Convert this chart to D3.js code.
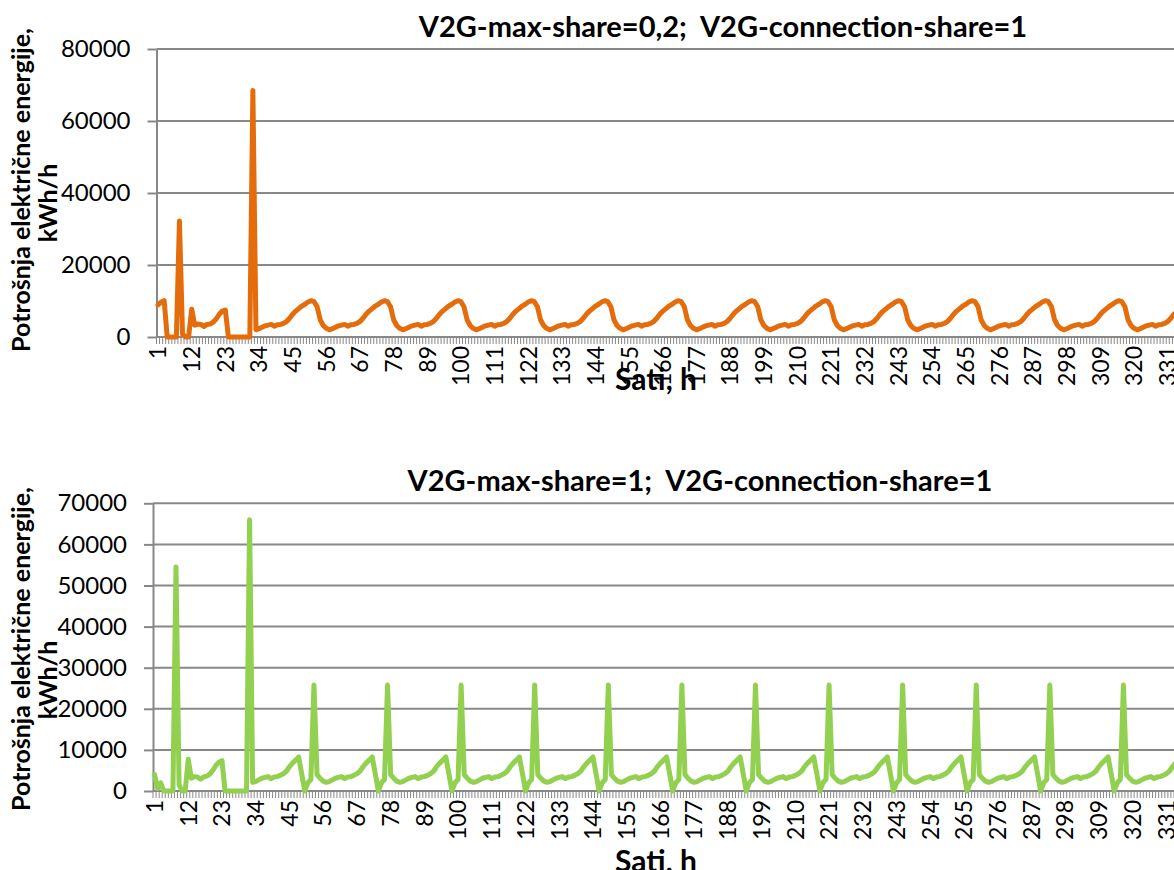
<!DOCTYPE html>
<html>
<head>
<meta charset="utf-8">
<script src="https://cdn.jsdelivr.net/npm/d3@7"></script>
<style>
  html, body { margin: 0; padding: 0; background: #ffffff; }
  svg { display: block; overflow: hidden; }
  text { fill: #000; }
  .title, .ytitle { font-family: Lato, "Open Sans", sans-serif; font-weight: 700; white-space: pre; }
  .tick text { font-family: Lato, "Open Sans", sans-serif; }
</style>
</head>
<body>
<svg id="chart" width="1174" height="870"></svg>
<script>
// Simulated hours (two weeks, hourly resolution)
const hours = d3.range(1, 337);

const xTickLabels = [1, 12, 23, 34, 45, 56, 67, 78, 89, 100, 111, 122, 133, 144, 155,
  166, 177, 188, 199, 210, 221, 232, 243, 254, 265, 276, 287, 298, 309, 320, 331];
const yTicksTop = [0, 20000, 40000, 60000, 80000];
const yTicksBottom = [0, 10000, 20000, 30000, 40000, 50000, 60000, 70000];

// Electricity consumption, kWh/h — V2G max share 0.2, connection share 1
const consumptionTop = [
  8900, 9700, 10100, 0, 0, 0, 0, 32200, 800, 0, 0, 7700, 3300, 3600, 3500, 2900,
  3500, 3600, 4100, 5000, 6300, 7200, 7500, 0, 0, 0, 0, 0, 0, 0, 0, 68500,
  2000, 2300, 2700, 3100, 3300, 3500, 3000, 3400, 3500, 3800, 4300, 5200, 6300, 7200, 7900, 8600, 9100, 9700, 10100, 9800, 8400, 4800, 3200, 2400,
  2000, 2300, 2700, 3100, 3300, 3500, 3000, 3400, 3500, 3800, 4300, 5200, 6300, 7200, 7900, 8600, 9100, 9700, 10100, 9800, 8400, 4800, 3200, 2400,
  2000, 2300, 2700, 3100, 3300, 3500, 3000, 3400, 3500, 3800, 4300, 5200, 6300, 7200, 7900, 8600, 9100, 9700, 10100, 9800, 8400, 4800, 3200, 2400,
  2000, 2300, 2700, 3100, 3300, 3500, 3000, 3400, 3500, 3800, 4300, 5200, 6300, 7200, 7900, 8600, 9100, 9700, 10100, 9800, 8400, 4800, 3200, 2400,
  2000, 2300, 2700, 3100, 3300, 3500, 3000, 3400, 3500, 3800, 4300, 5200, 6300, 7200, 7900, 8600, 9100, 9700, 10100, 9800, 8400, 4800, 3200, 2400,
  2000, 2300, 2700, 3100, 3300, 3500, 3000, 3400, 3500, 3800, 4300, 5200, 6300, 7200, 7900, 8600, 9100, 9700, 10100, 9800, 8400, 4800, 3200, 2400,
  2000, 2300, 2700, 3100, 3300, 3500, 3000, 3400, 3500, 3800, 4300, 5200, 6300, 7200, 7900, 8600, 9100, 9700, 10100, 9800, 8400, 4800, 3200, 2400,
  2000, 2300, 2700, 3100, 3300, 3500, 3000, 3400, 3500, 3800, 4300, 5200, 6300, 7200, 7900, 8600, 9100, 9700, 10100, 9800, 8400, 4800, 3200, 2400,
  2000, 2300, 2700, 3100, 3300, 3500, 3000, 3400, 3500, 3800, 4300, 5200, 6300, 7200, 7900, 8600, 9100, 9700, 10100, 9800, 8400, 4800, 3200, 2400,
  2000, 2300, 2700, 3100, 3300, 3500, 3000, 3400, 3500, 3800, 4300, 5200, 6300, 7200, 7900, 8600, 9100, 9700, 10100, 9800, 8400, 4800, 3200, 2400,
  2000, 2300, 2700, 3100, 3300, 3500, 3000, 3400, 3500, 3800, 4300, 5200, 6300, 7200, 7900, 8600, 9100, 9700, 10100, 9800, 8400, 4800, 3200, 2400,
  2000, 2300, 2700, 3100, 3300, 3500, 3000, 3400, 3500, 3800, 4300, 5200, 6300, 7200, 7900, 8600, 9100, 9700, 10100, 9800, 8400, 4800, 3200, 2400,
  2000, 2300, 2700, 3100, 3300, 3500, 3000, 3400, 3500, 3800, 4300, 5200, 6300, 7000, 7600, 8300
];

// Electricity consumption, kWh/h — V2G max share 1, connection share 1
const consumptionBottom = [
  4000, 600, 2000, 0, 0, 0, 0, 54500, 1500, 0, 0, 7700, 3100, 3500, 3400, 2900,
  3400, 3600, 4100, 5000, 6200, 7000, 7400, 0, 0, 0, 0, 0, 0, 0, 0, 66000,
  2100, 2300, 2700, 3100, 3300, 3500, 3000, 3400, 3500, 3800, 4200, 4800, 5900, 6800, 7500, 8300, 4200, 0, 2000, 2800, 25800, 4000, 3100, 2400,
  2100, 2300, 2700, 3100, 3300, 3500, 3000, 3400, 3500, 3800, 4200, 4800, 5900, 6800, 7500, 8300, 4200, 0, 2000, 2800, 25800, 4000, 3100, 2400,
  2100, 2300, 2700, 3100, 3300, 3500, 3000, 3400, 3500, 3800, 4200, 4800, 5900, 6800, 7500, 8300, 4200, 0, 2000, 2800, 25800, 4000, 3100, 2400,
  2100, 2300, 2700, 3100, 3300, 3500, 3000, 3400, 3500, 3800, 4200, 4800, 5900, 6800, 7500, 8300, 4200, 0, 2000, 2800, 25800, 4000, 3100, 2400,
  2100, 2300, 2700, 3100, 3300, 3500, 3000, 3400, 3500, 3800, 4200, 4800, 5900, 6800, 7500, 8300, 4200, 0, 2000, 2800, 25800, 4000, 3100, 2400,
  2100, 2300, 2700, 3100, 3300, 3500, 3000, 3400, 3500, 3800, 4200, 4800, 5900, 6800, 7500, 8300, 4200, 0, 2000, 2800, 25800, 4000, 3100, 2400,
  2100, 2300, 2700, 3100, 3300, 3500, 3000, 3400, 3500, 3800, 4200, 4800, 5900, 6800, 7500, 8300, 4200, 0, 2000, 2800, 25800, 4000, 3100, 2400,
  2100, 2300, 2700, 3100, 3300, 3500, 3000, 3400, 3500, 3800, 4200, 4800, 5900, 6800, 7500, 8300, 4200, 0, 2000, 2800, 25800, 4000, 3100, 2400,
  2100, 2300, 2700, 3100, 3300, 3500, 3000, 3400, 3500, 3800, 4200, 4800, 5900, 6800, 7500, 8300, 4200, 0, 2000, 2800, 25800, 4000, 3100, 2400,
  2100, 2300, 2700, 3100, 3300, 3500, 3000, 3400, 3500, 3800, 4200, 4800, 5900, 6800, 7500, 8300, 4200, 0, 2000, 2800, 25800, 4000, 3100, 2400,
  2100, 2300, 2700, 3100, 3300, 3500, 3000, 3400, 3500, 3800, 4200, 4800, 5900, 6800, 7500, 8300, 4200, 0, 2000, 2800, 25800, 4000, 3100, 2400,
  2100, 2300, 2700, 3100, 3300, 3500, 3000, 3400, 3500, 3800, 4200, 4800, 5900, 6800, 7500, 8300, 4200, 0, 2000, 2800, 25800, 4000, 3100, 2400,
  2100, 2300, 2700, 3100, 3300, 3500, 3000, 3400, 3500, 3800, 4200, 4800, 5900, 6800, 7500, 8300
];

const GRID = "#888888";

const panels = [
  {
    title: "V2G-max-share=0,2;  V2G-connection-share=1",
    values: consumptionTop, yTicks: yTicksTop, yMax: 80000, color: "#E46C0A",
    left: 156.5, right: 1184.6, top: 49, bottom: 337,
    titleX: 723, titleY: 37, yTitleY: 190, unitY: 203, xTitleY: 390
  },
  {
    title: "V2G-max-share=1;  V2G-connection-share=1",
    values: consumptionBottom, yTicks: yTicksBottom, yMax: 70000, color: "#92D050",
    left: 153, right: 1183.2, top: 503.3, bottom: 791,
    titleX: 700, titleY: 491, yTitleY: 649, unitY: 680, xTitleY: 872
  }
];

const svg = d3.select("#chart");

panels.forEach(p => {
  const g = svg.append("g");
  const x = d3.scaleBand().domain(hours).range([p.left, p.right]).padding(0);
  const y = d3.scaleLinear().domain([0, p.yMax]).range([p.bottom, p.top]);
  const bw = x.bandwidth();

  // horizontal gridlines
  g.append("g").selectAll("line").data(p.yTicks).join("line")
    .attr("x1", p.left).attr("x2", p.right)
    .attr("y1", d => y(d)).attr("y2", d => y(d))
    .attr("stroke", GRID).attr("stroke-width", 2);

  // category tick marks at every hour boundary
  g.append("g").selectAll("line").data(hours.concat([null])).join("line")
    .attr("x1", d => d === null ? p.right : x(d))
    .attr("x2", d => d === null ? p.right : x(d))
    .attr("y1", p.bottom).attr("y2", p.bottom + 7)
    .attr("stroke", GRID).attr("stroke-width", 1);

  // y axis
  const yAxis = d3.axisLeft(y).tickValues(p.yTicks).tickSize(9).tickSizeOuter(0)
    .tickPadding(17).tickFormat(d3.format("d"));
  const ya = g.append("g").attr("transform", `translate(${p.left},0)`).call(yAxis);
  ya.select(".domain").attr("stroke", GRID).attr("stroke-width", 2);
  ya.selectAll(".tick line").attr("stroke", GRID).attr("stroke-width", 2);
  ya.selectAll(".tick text").attr("font-size", 24).attr("fill", "#000");

  // x axis labels (every 11th hour, rotated)
  const xAxis = d3.axisBottom(x).tickValues(xTickLabels).tickSize(0).tickSizeOuter(0);
  const xa = g.append("g").attr("transform", `translate(0,${p.bottom})`).call(xAxis);
  xa.select(".domain").remove();
  xa.selectAll(".tick text")
    .attr("font-size", 23).attr("fill", "#000")
    .attr("transform", "rotate(-90)")
    .attr("text-anchor", "end")
    .attr("x", -9).attr("y", 0).attr("dy", "0.36em");

  // consumption line
  const line = d3.line()
    .x((d, i) => x(hours[i]) + bw / 2)
    .y(d => y(d));
  g.append("path").datum(p.values)
    .attr("d", line)
    .attr("fill", "none")
    .attr("stroke", p.color)
    .attr("stroke-width", 5)
    .attr("stroke-linejoin", "round")
    .attr("stroke-linecap", "round");

  // titles
  g.append("text").attr("class", "title")
    .attr("x", p.titleX).attr("y", p.titleY)
    .attr("text-anchor", "middle").attr("font-size", 29)
    .text(p.title);

  g.append("text").attr("class", "title")
    .attr("x", 656).attr("y", p.xTitleY)
    .attr("text-anchor", "middle").attr("font-size", 30)
    .text("Sati, h");

  g.append("text").attr("class", "ytitle")
    .attr("transform", `translate(30,${p.yTitleY}) rotate(-90)`)
    .attr("text-anchor", "middle").attr("font-size", 25)
    .text("Potrošnja električne energije,");

  g.append("text").attr("class", "ytitle")
    .attr("transform", `translate(57,${p.unitY}) rotate(-90)`)
    .attr("text-anchor", "middle").attr("font-size", 25)
    .text("kWh/h");
});
</script>
</body>
</html>
